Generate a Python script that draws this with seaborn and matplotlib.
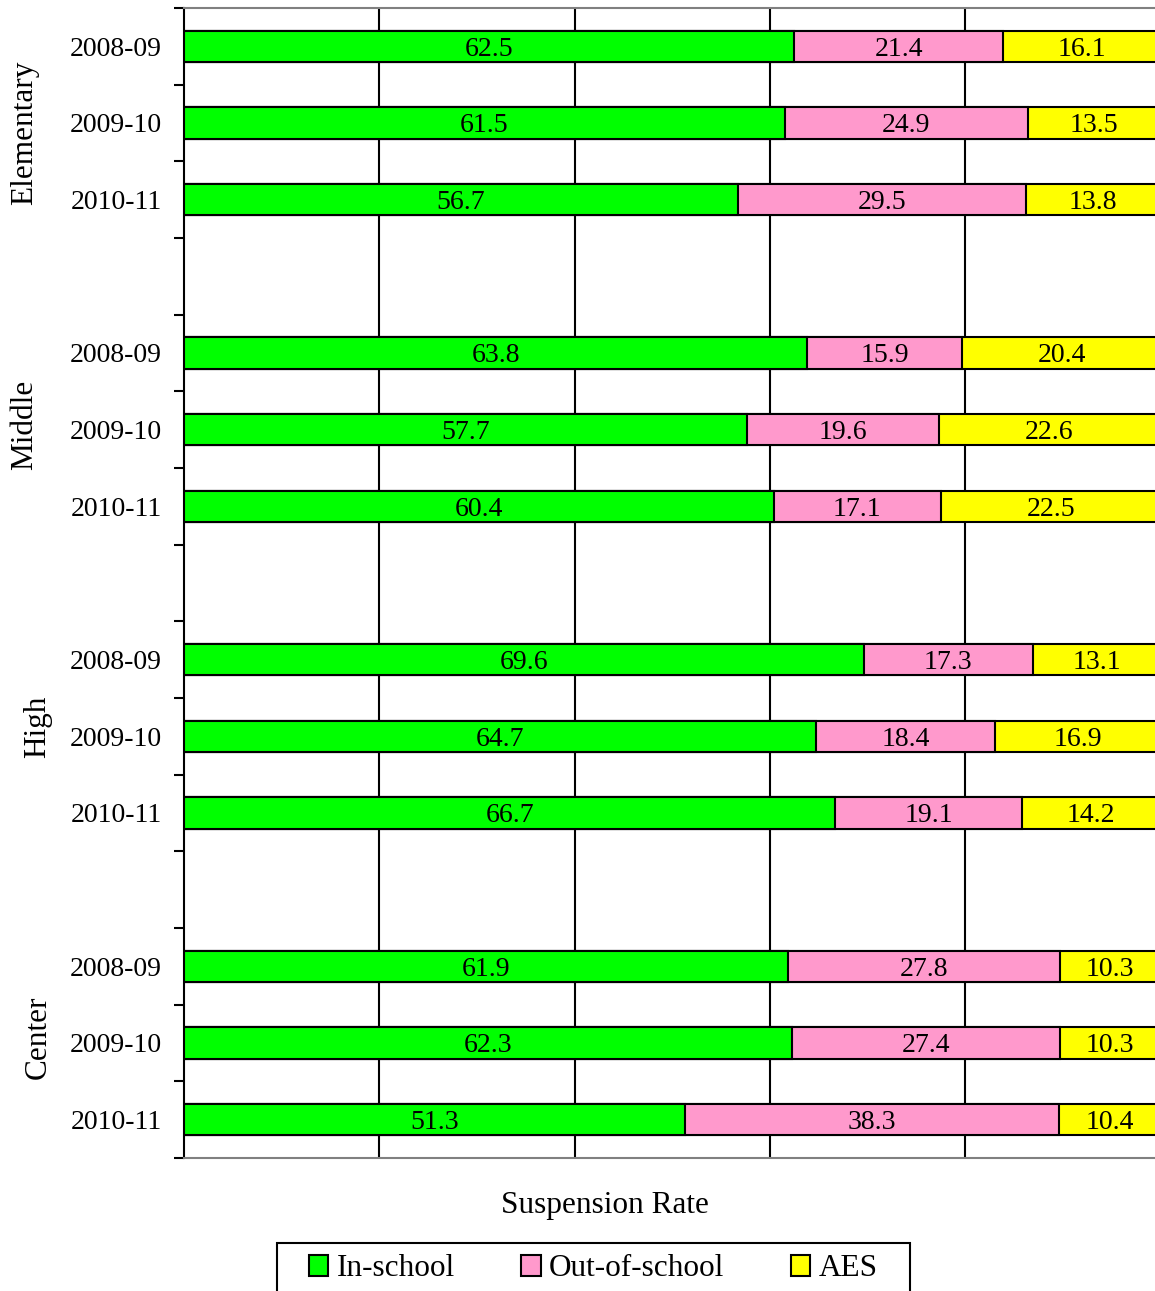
import numpy as np
import pandas as pd
import seaborn as sns
import matplotlib.pyplot as plt
from matplotlib.patches import Patch, Rectangle

OUT_PATH = 'out.png'

groups = ['Elementary', 'Middle', 'High', 'Center']
years = ['2008-09', '2009-10', '2010-11']
in_school = [62.5, 61.5, 56.7, 63.8, 57.7, 60.4, 69.6, 64.7, 66.7, 61.9, 62.3, 51.3]
out_school = [21.4, 24.9, 29.5, 15.9, 19.6, 17.1, 17.3, 18.4, 19.1, 27.8, 27.4, 38.3]
aes = [16.1, 13.5, 13.8, 20.4, 22.6, 22.5, 13.1, 16.9, 14.2, 10.3, 10.3, 10.4]

series_names = ['In-school', 'Out-of-school', 'AES']
colors = ['#00FF00', '#FF99CC', '#FFFF00']


def main():
    sns.set_style('white')
    plt.rcParams['font.family'] = ['Liberation Serif', 'DejaVu Serif']
    plt.rcParams['text.color'] = 'black'
    plt.rcParams['axes.labelcolor'] = 'black'
    plt.rcParams['xtick.color'] = 'black'
    plt.rcParams['ytick.color'] = 'black'

    # una fila por barra; cada grupo ocupa 4 posiciones (3 barras + hueco)
    rows = []
    for gi, g in enumerate(groups):
        for yi, yr in enumerate(years):
            k = gi * 3 + yi
            rows.append({'group': g, 'year': yr, 'pos': gi * 4 + yi,
                         'in': in_school[k], 'out': out_school[k], 'aes': aes[k]})
    df = pd.DataFrame(rows)
    df['c1'] = df['in']
    df['c2'] = df['in'] + df['out']
    df['c3'] = df['c2'] + df['aes']

    fig = plt.figure(figsize=(11.55, 12.91), dpi=100)
    W, H = 1155, 1291
    ax = fig.add_axes([184 / W, 1 - 1158 / H, (1160.5 - 184) / W, (1158 - 8) / H])

    # barras apiladas: se dibujan los acumulados de mayor a menor
    for col, c in zip(['c3', 'c2', 'c1'], colors[::-1]):
        sns.barplot(data=df, x=col, y='pos', orient='h', native_scale=True,
                    color=c, saturation=1, width=0.41, errorbar=None,
                    edgecolor='black', linewidth=1.5, ax=ax, zorder=3)

    # etiquetas de valores
    for _, r in df.iterrows():
        starts = [0, r['c1'], r['c2']]
        vals = [r['in'], r['out'], r['aes']]
        for s, v in zip(starts, vals):
            ax.text(s + v / 2, r['pos'], f'{v:.1f}', ha='center', va='center_baseline',
                    fontsize=20, color='black', zorder=5)

    n_slots = len(groups) * 4 - 1
    ax.set_xlim(0, 100)
    ax.set_ylim(n_slots - 0.5, -0.5)

    ax.set_xticks([20, 40, 60, 80])
    ax.set_xticklabels([])
    ax.tick_params(axis='x', length=0)
    ax.grid(axis='x', color='black', linewidth=1.5)
    ax.grid(axis='y', visible=False)
    ax.set_axisbelow(True)

    ax.set_yticks(df['pos'])
    ax.set_yticklabels(df['year'], fontsize=20)
    ax.set_yticks(np.arange(-0.5, n_slots + 0.5, 1), minor=True)
    ax.tick_params(axis='y', which='major', length=0, pad=16)
    ax.tick_params(axis='y', which='minor', length=7, width=1.5, color='black', left=True)
    ax.set_ylabel('')

    for side in ['top', 'bottom']:
        ax.spines[side].set_color('#808080')
        ax.spines[side].set_linewidth(1.5)
    ax.spines['left'].set_color('black')
    ax.spines['left'].set_linewidth(1.5)
    ax.spines['right'].set_visible(False)

    ax.set_xlabel('Suspension Rate', fontsize=22.5)
    ax.xaxis.set_label_coords((605 - 184) / (1160.5 - 184), -(1191 - 1158) / 1150)

    # etiquetas de grupo
    group_xy = [(25, 133), (25, 425), (38, 727), (38, 1037)]
    for g, (gx, gy) in zip(groups, group_xy):
        fig.text(gx / W, 1 - gy / H, g, rotation=90, ha='center', va='center', fontsize=22.5)

    # leyenda sin marco + marco dibujado aparte (queda cortado por abajo)
    handles = [Patch(facecolor=c, edgecolor='black', linewidth=1.5) for c in colors]
    fig.legend(handles, series_names, loc='center left', ncol=3,
               bbox_to_anchor=(309 / W, 1 - 1269 / H),
               borderaxespad=0, borderpad=0, fontsize=22.5, frameon=False,
               handlelength=0.62, handleheight=0.62,
               handletextpad=0.27, columnspacing=2.12)
    fig.patches.append(Rectangle((277 / W, 1 - 1310 / H), (910 - 277) / W, (1310 - 1243) / H,
                                 transform=fig.transFigure, fill=False,
                                 edgecolor='black', linewidth=1.5))

    fig.savefig(OUT_PATH, dpi=100)


if __name__ == '__main__':
    main()
